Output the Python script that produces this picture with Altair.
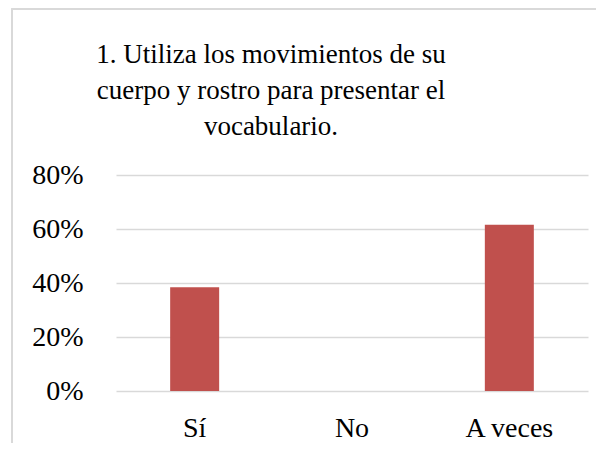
import altair as alt
import pandas as pd

categories = ["Sí", "No", "A veces"]
values = [0.3846, 0.0, 0.6154]
title_lines = ["1. Utiliza los movimientos de su", "cuerpo y rostro para presentar el", "vocabulario."]

df = pd.DataFrame({"cat": categories, "val": values})
FONT = "Liberation Serif"

bars = alt.Chart(df).mark_bar(size=49, color="#C0504D").encode(
    x=alt.X("cat:N", sort=categories, title=None,
            scale=alt.Scale(paddingInner=0, paddingOuter=0),
            axis=alt.Axis(labelAngle=0, domain=False, ticks=False, labelPadding=23,
                          labelFontSize=28, labelFont=FONT, labelColor="#000000")),
    y=alt.Y("val:Q", title=None,
            scale=alt.Scale(domain=[0, 0.8]),
            axis=alt.Axis(format=".0%", values=[0, 0.2, 0.4, 0.6, 0.8], domain=False, ticks=False,
                          labelPadding=33, labelFontSize=28, labelFont=FONT, labelColor="#000000",
                          gridColor="#d9d9d9", gridWidth=1.5)),
)

border = alt.Chart(df).mark_rect(fill=None, stroke="#d9d9d9", strokeWidth=1.5).encode(
    x=alt.value(-104), x2=alt.value(560), y=alt.value(-166), y2=alt.value(340)
)

title_df = pd.DataFrame({"t": ["\n".join(title_lines)]})
title = alt.Chart(title_df).mark_text(
    font=FONT, fontSize=27, color="#000000", lineBreak="\n", lineHeight=36,
    align="center", baseline="alphabetic"
).encode(text="t:N", x=alt.value(155), y=alt.value(-112))

chart = alt.layer(border, title, bars).properties(
    width=472, height=216,
    autosize=alt.AutoSizeParams(type="none"),
    padding={"left": 108, "top": 167, "right": 8, "bottom": 52},
).configure(font=FONT).configure_text(font=FONT).configure_view(stroke=None)

chart.save("out.html", embed_options={"renderer": "svg", "actions": False})
